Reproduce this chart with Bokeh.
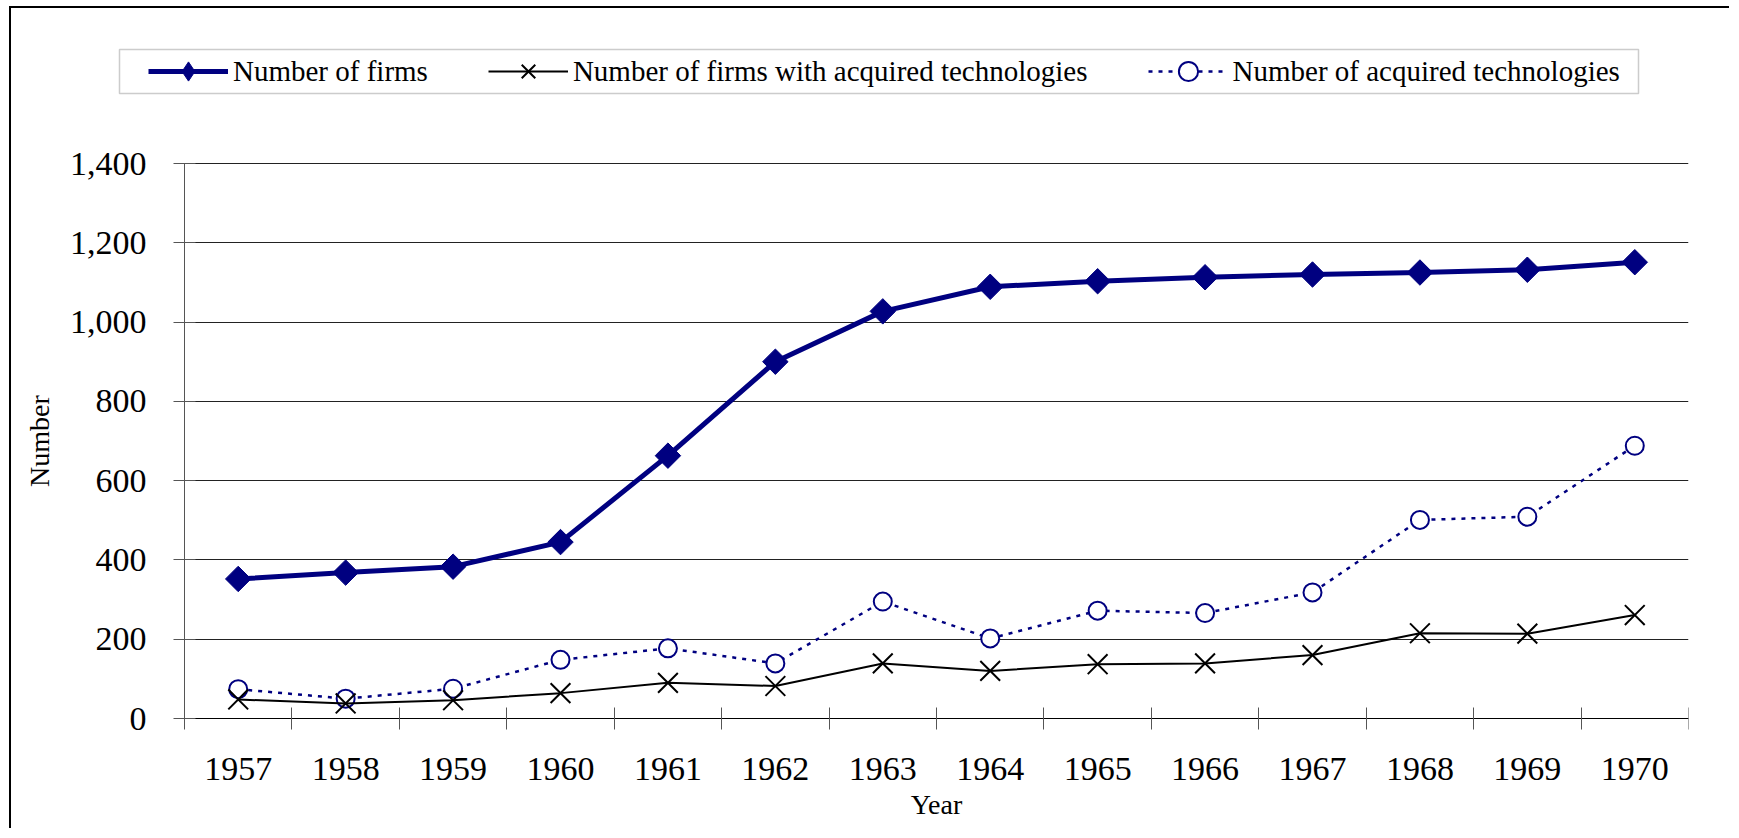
import math
from bokeh.plotting import figure
from bokeh.models import (Range1d, FixedTicker, NumeralTickFormatter, Legend,
                          LegendItem, BoxAnnotation)
from bokeh.embed import file_html
from bokeh.resources import INLINE

# ---- data ----
years = [1957, 1958, 1959, 1960, 1961, 1962, 1963, 1964, 1965, 1966, 1967, 1968, 1969, 1970]
num_firms = [352, 368, 383, 445, 663, 900, 1027, 1089, 1103, 1113, 1120, 1125, 1132, 1151]
num_firms_acquired = [48, 38, 46, 64, 90, 82, 139, 120, 137, 139, 160, 215, 214, 261]
num_acquired_tech = [74, 50, 75, 148, 177, 139, 295, 202, 272, 266, 318, 501, 509, 688]
y_ticks = [0, 200, 400, 600, 800, 1000, 1200, 1400]

label_firms = "Number of firms"
label_firms_acq = "Number of firms with acquired technologies"
label_tech = "Number of acquired technologies"

FONT = "Liberation Serif"
NAVY = "#000080"

# ---- layout (canvas pixels) ----
W, H = 1720, 822
FR_RIGHT = 1677          # frame spans canvas x 0..FR_RIGHT, y 0..H
AX_X = 173               # y-axis position
ZERO_Y = 710             # x-axis (value 0) position
PLOT_TOP = 155           # position of the 1400 line
x_lo, x_hi = years[0] - 0.5, years[-1] + 0.5
y_hi = y_ticks[-1]
x_per_px = (x_hi - x_lo) / (FR_RIGHT - AX_X)
y_per_px = y_hi / (ZERO_Y - PLOT_TOP)
x_start = x_lo - AX_X * x_per_px
y_end = y_hi + PLOT_TOP * y_per_px
y_start = -(H - ZERO_Y) * y_per_px

p = figure(width=W, height=H, output_backend="svg", toolbar_location=None,
           x_range=Range1d(x_start, x_hi), y_range=Range1d(y_start, y_end),
           min_border_left=0, min_border_top=0,
           min_border_right=W - FR_RIGHT, min_border_bottom=0)
p.styles = {"margin-left": "9px", "margin-top": "6px",
            "border-left": "2px solid black", "border-top": "2px solid black"}
p.outline_line_color = None
p.background_fill_color = "white"
p.border_fill_color = "white"

# ---- series ----
r_tech_line = p.line(years, num_acquired_tech, line_color=NAVY, line_width=2.5, line_dash="4 6")
r_tech_pts = p.scatter(years, num_acquired_tech, marker="circle", size=18,
                       fill_color="white", line_color=NAVY, line_width=2)
r_fa_line = p.line(years, num_firms_acquired, line_color="black", line_width=2)
r_fa_pts = p.scatter(years, num_firms_acquired, marker="x", size=28,
                     line_color="black", line_width=2)
r_f_line = p.line(years, num_firms, line_color=NAVY, line_width=5)
r_f_dia = p.scatter(years, num_firms, marker="diamond", size=12,
                    fill_color=NAVY, line_color=NAVY)
r_f_pts = p.scatter(years, num_firms, marker="square", angle=math.pi / 4, size=18,
                    fill_color=NAVY, line_color=NAVY)

# ---- x axis (drawn at value 0) ----
xa = p.xaxis[0]
xa.fixed_location = 0
boundaries = [y - 0.5 for y in years] + [years[-1] + 0.5]
xa.ticker = FixedTicker(ticks=years, minor_ticks=boundaries)
xa.bounds = (x_lo, x_hi)
xa.major_tick_in = 0
xa.major_tick_out = 0
xa.minor_tick_in = 11
xa.minor_tick_out = 11
xa.minor_tick_line_color = "#555555"
xa.axis_line_color = "black"
xa.major_label_text_font = FONT
xa.major_label_text_font_size = "34px"
xa.major_label_text_color = "black"
xa.major_label_standoff = 28
xa.axis_label = "Year"
xa.axis_label_text_font = FONT
xa.axis_label_text_font_size = "28px"
xa.axis_label_text_font_style = "normal"
xa.axis_label_text_color = "black"
xa.axis_label_standoff = 6

# ---- y axis (drawn at the first category boundary) ----
ya = p.yaxis[0]
ya.fixed_location = x_lo
ya.bounds = (0, y_hi)
ya.ticker = FixedTicker(ticks=y_ticks)
ya.formatter = NumeralTickFormatter(format="0,0")
ya.major_tick_in = 11
ya.major_tick_out = 11
ya.minor_tick_line_color = None
ya.major_tick_line_color = "#555555"
ya.axis_line_color = "#555555"
ya.major_label_text_font = FONT
ya.major_label_text_font_size = "34px"
ya.major_label_text_color = "black"
ya.major_label_standoff = 27
ya.axis_label = "Number"
ya.axis_label_text_font = FONT
ya.axis_label_text_font_size = "28px"
ya.axis_label_text_font_style = "normal"
ya.axis_label_text_color = "black"
ya.axis_label_standoff = 12

# ---- grid ----
p.xgrid.grid_line_color = None
yg = p.ygrid[0]
yg.ticker = FixedTicker(ticks=y_ticks)
if "cross_bounds" in yg.properties():
    yg.cross_bounds = (x_lo, x_hi)
    yg.grid_line_color = "#222222"
    yg.grid_line_width = 1
else:
    yg.grid_line_color = None
    p.segment(x0=[x_lo] * len(y_ticks), x1=[x_hi] * len(y_ticks), y0=y_ticks, y1=y_ticks,
              line_color="#222222", line_width=1, level="underlay")

# ---- legend ----
def cx(px):
    return x_start + px * x_per_px

def cy(py):
    return (ZERO_Y - py) * y_per_px

legend_box = BoxAnnotation(left=cx(108), right=cx(1627), top=cy(41), bottom=cy(85),
                           fill_color="white", fill_alpha=1,
                           line_color="#555555", line_width=1.5)
p.add_layout(legend_box)

legend = Legend(items=[
    LegendItem(label=label_firms, renderers=[r_f_line, r_f_dia]),
    LegendItem(label=label_firms_acq, renderers=[r_fa_line, r_fa_pts]),
    LegendItem(label=label_tech, renderers=[r_tech_line, r_tech_pts]),
], orientation="horizontal", location=(137, H - 87))
legend.label_text_font = FONT
legend.label_text_font_size = "29px"
legend.label_text_color = "black"
legend.glyph_width = 80
legend.glyph_height = 48
legend.label_height = 48
legend.label_standoff = 5
legend.spacing = 60
legend.padding = 0
legend.margin = 0
legend.border_line_color = None
legend.background_fill_alpha = 0
p.add_layout(legend, "center")

open("out.html", "w").write(file_html(p, INLINE))
